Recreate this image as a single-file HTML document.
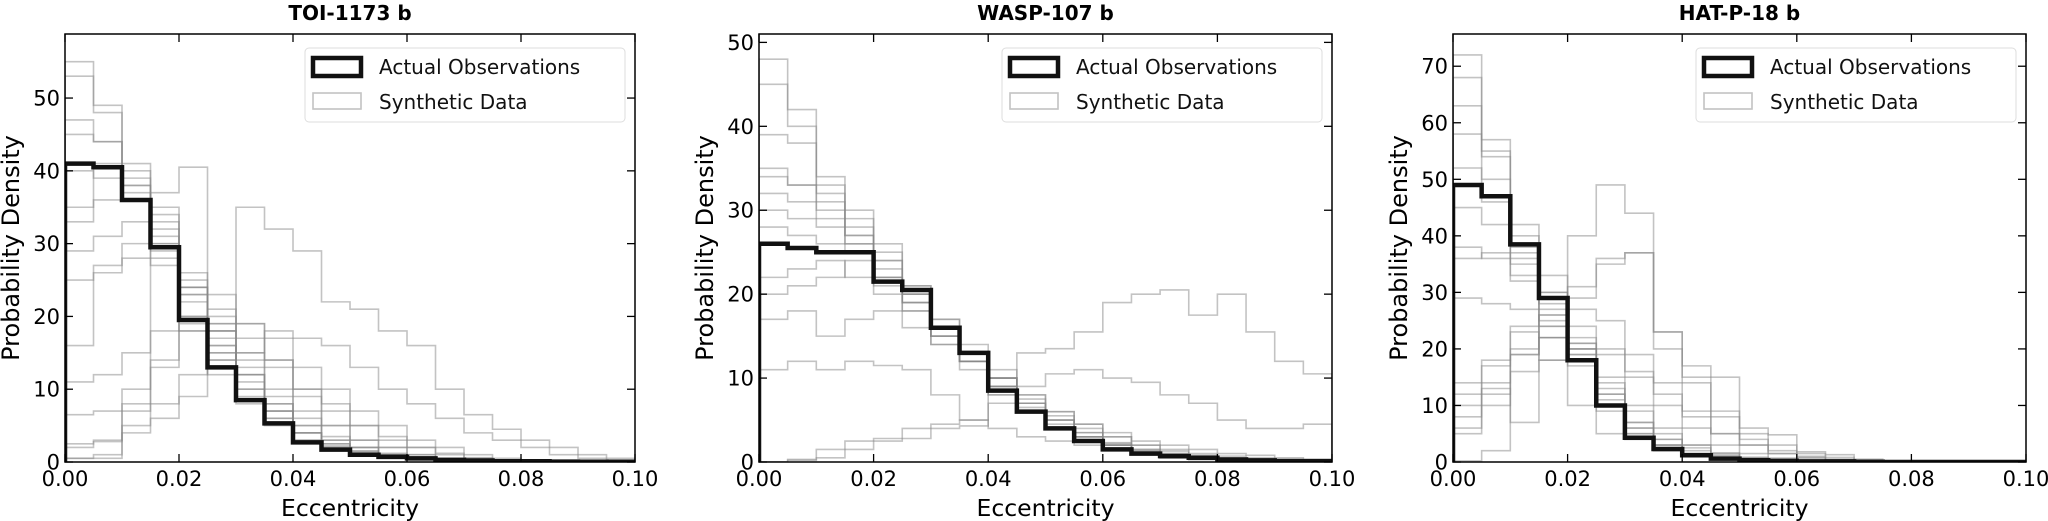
<!DOCTYPE html>
<html><head><meta charset="utf-8">
<style>
html,body{margin:0;padding:0;background:#fff;}
svg{display:block;font-family:"DejaVu Sans","Liberation Sans",sans-serif;}
</style></head>
<body>
<svg id="fig" width="2048" height="521" viewBox="0 0 2048 521" xmlns="http://www.w3.org/2000/svg"></svg>
<script>
const binEdgeStep = 0.005;
const xTicks = [0, 0.02, 0.04, 0.06, 0.08, 0.10];
const xTickLabels = ["0.00","0.02","0.04","0.06","0.08","0.10"];
const titles = ["TOI-1173 b","WASP-107 b","HAT-P-18 b"];
const yMaxes = [58.8, 51.0, 75.7];
const yTicks1 = [0,10,20,30,40,50];
const yTicks2 = [0,10,20,30,40,50];
const yTicks3 = [0,10,20,30,40,50,60,70];

const actual1 = [41,40.5,36,29.5,19.5,13,8.5,5.3,2.7,1.7,1,0.7,0.5,0.3,0.2,0.1,0.1,0.05,0.03,0.02];
const actual2 = [26,25.5,25,25,21.5,20.5,16,13,8.5,6,4,2.5,1.5,1,0.7,0.5,0.3,0.2,0.1,0.1];
const actual3 = [49,47,38.5,29,18,10,4.3,2.3,1.2,0.6,0.3,0.2,0.1,0.1,0.05,0,0,0,0,0];

const synth1 = [
[55,48,40,33,25,18,12,8,5,3,2,1,0.5,0.3,0.2,0.1,0,0,0,0],
[53,49,41,34,22,15,10,6,4,2.5,1.5,1,0.5,0.3,0.1,0.1,0,0,0,0],
[45,44,38,30,20,14,9,6,3,2,1,0.5,0.3,0.2,0.1,0,0,0,0,0],
[40,39,36,28,18,12,8,5,3,1.8,1,0.6,0.4,0.2,0.1,0,0,0,0,0],
[35,41,37,31,24,15,10,7,4,2.5,1.5,1,0.5,0.3,0.2,0,0,0,0,0],
[29,31,33,30,23,17,12,8,5,3,2,1,0.6,0.3,0.2,0.1,0,0,0,0],
[16,26,28,27,23,19,14,10,7,5,3,2,1,0.5,0.3,0.2,0.1,0,0,0],
[33,36,38,35,26,20,12,7,4,2,1.2,0.8,0.4,0.2,0.1,0,0,0,0,0],
[11,12,15,18,20,18,17,14,10,8,5,3,2,1,0.5,0.3,0.2,0,0,0],
[2.5,3,7,14,19,16,15,13,10,7,5,3.5,2,1.2,0.6,0.3,0.1,0,0,0],
[2,2.8,8,37,40.5,23,19,14,9,5,3,2,1,0.5,0.3,0,0,0,0,0],
[0.5,0.5,4,6,9,18,35,32,29,22,21,18,16,10,6.5,4.5,3,2,1,0.5],
[6.5,7,10,13,18,21,19,17,13,10,7,5,3,2,1,0.5,0.3,0.1,0,0],
[0.5,1,5,8,12,14,15,18,17,16,13,10,8,6,4,3,2,1,0.5,0.3],
[47,44,39,32,24,16,11,7,4,2.2,1.3,0.8,0.4,0.2,0.1,0,0,0,0,0],
[25,27,30,29,24,19,13,9,6,3.5,2,1.2,0.7,0.4,0.2,0.1,0,0,0,0]
];
const synth2 = [
[48,42,33,29,24,20,15,12,9,6,4,2.5,1.5,1,0.5,0.3,0.2,0.1,0,0],
[45,40,34,30,26,21,16,12,9,6,4,3,2,1,0.5,0.3,0.2,0.1,0,0],
[39,38,32,27,24,20,15,12,8,6,4,2.5,1.5,1,0.6,0.4,0.2,0.1,0.1,0],
[34,33,30,26,22,19,15,12,9,6.5,4.5,3,2,1.3,0.8,0.5,0.3,0.2,0.1,0.1],
[32,31,29,27,23,20,16,13,10,7,5,3.5,2.2,1.5,1,0.6,0.4,0.2,0.1,0.1],
[30,29,28,26,22,18,14,11,8,6,4,3,2,1.3,0.9,0.6,0.4,0.3,0.2,0.1],
[22,23,24,22,20,18,15,12,10,7.5,5.5,4,3,2,1.5,1,0.7,0.5,0.3,0.2],
[20,21,22,24,21,19,17,14,11,8,6,4.5,3,2,1.3,0.8,0.5,0.3,0.2,0.1],
[17,18,15,17,18,16,14,12,10,8,6,4.5,3.5,2.5,2,1.5,1,0.8,0.5,0.3],
[11,12,11,12,11.5,11,8,5,4,3,2.5,2,1.5,1,0.5,0.3,0.2,0.1,0,0],
[0,0.3,1.5,2.5,2.8,4,4.5,5,7,9,10.5,11,10,9.5,8,7,5,4,4,4.5],
[0,0.2,0.5,1.5,2.5,2.8,4,4.3,9,13,13.5,15.5,19,20,20.5,17.5,20,15.5,12,10.5],
[35,33,31,28,25,21,17,13,10,7,5,3,2,1.2,0.8,0.5,0.3,0.2,0.1,0.1],
[28,27,26,25,22,19,16,13,10,7,5,3.5,2.3,1.5,1,0.6,0.4,0.2,0.1,0.1]
];
const synth3 = [
[72,55,40,30,18,10,5,2.5,1.2,0.6,0.3,0.1,0,0,0,0,0,0,0,0],
[68,57,42,33,20,11,6,3,1.5,0.8,0.3,0.2,0,0,0,0,0,0,0,0],
[63,54,38,28,19,9,4,2,1,0.5,0.2,0.1,0,0,0,0,0,0,0,0],
[58,50,36,27,17,10,5,3,1.5,0.7,0.3,0.1,0,0,0,0,0,0,0,0],
[52,46,37,29,21,12,6,3,1.5,0.8,0.4,0.2,0.1,0,0,0,0,0,0,0],
[45,42,35,30,20,13,7,4,2,1,0.5,0.2,0.1,0,0,0,0,0,0,0],
[38,36,33,25,19,12,7,4,2.5,1.2,0.6,0.3,0.1,0,0,0,0,0,0,0],
[36,37,32,24,22,14,9,5,3,1.5,0.8,0.4,0.2,0.1,0,0,0,0,0,0],
[29,28,27,22,20,15,10,6,3,1.6,0.8,0.4,0.2,0.1,0,0,0,0,0,0],
[14,17,19,24,27,25,19,14,9,5,3,1.5,0.7,0.3,0.1,0,0,0,0,0],
[6,12,19,22,29,35,37,23,15,8,4,2,1,0.5,0.2,0,0,0,0,0],
[5,13,7,18,40,49,44,20,14,9,5,3,1.5,0.8,0.3,0.1,0,0,0,0],
[0.2,2,16,26,31,36,37,23,17,15,6,4.8,1.8,1.3,0.5,0.2,0,0,0,0],
[8,10,23,18,10,5,4,2,1,0.5,0.2,0,0,0,0,0,0,0,0,0],
[12,18,24,26,24,20,15,10,6,3,1.5,0.7,0.3,0.1,0,0,0,0,0,0],
[10,14,20,22,21,19,16,12,8,5,3,1.5,0.8,0.3,0.1,0,0,0,0,0]
];

const panels = [
  {left:65, right:635, title:titles[0], yMax:yMaxes[0], yTicks:yTicks1, actual:actual1, synth:synth1},
  {left:759, right:1332, title:titles[1], yMax:yMaxes[1], yTicks:yTicks2, actual:actual2, synth:synth2},
  {left:1453, right:2026, title:titles[2], yMax:yMaxes[2], yTicks:yTicks3, actual:actual3, synth:synth3}
];
const TOP = 34, BOTTOM = 462;
const NS = "http://www.w3.org/2000/svg";
const svg = document.getElementById('fig');
function mk(tag, attrs, parent){
  const e = document.createElementNS(NS, tag);
  for (const k in attrs) e.setAttribute(k, attrs[k]);
  (parent||svg).appendChild(e);
  return e;
}
function stepPath(vals, xs, ys){
  let d = `M${xs(0)},${ys(0)}`;
  vals.forEach((v,i)=>{
    d += ` L${xs(i*binEdgeStep)},${ys(v)} L${xs((i+1)*binEdgeStep)},${ys(v)}`;
  });
  d += ` L${xs(vals.length*binEdgeStep)},${ys(0)}`;
  return d;
}
panels.forEach((p, pi)=>{
  const g = mk('g', {});
  
  
  const xs = v => p.left + (v/0.1)*(p.right-p.left);
  const ys = v => BOTTOM - (v/p.yMax)*(BOTTOM-TOP);
  const clipId = 'clip'+pi;
  const cp = mk('clipPath', {id:clipId}, g);
  mk('rect', {x:p.left, y:TOP, width:p.right-p.left, height:BOTTOM-TOP}, cp);
  const plot = mk('g', {'clip-path':`url(#${clipId})`}, g);
  p.synth.forEach((s, si)=>{
    const path = mk('path', {d:stepPath(s, xs, ys), fill:'none', stroke:'#888', 'stroke-opacity':'0.5', 'stroke-width':'1.6'}, plot);
    
    
  });
  const act = mk('path', {d:stepPath(p.actual, xs, ys), fill:'none', stroke:'#111', 'stroke-width':'4.5'}, plot);
  
  
  const frame = mk('rect', {x:p.left, y:TOP, width:p.right-p.left, height:BOTTOM-TOP, fill:'none', stroke:'#000', 'stroke-width':'1.5'}, g);
  
  
  xTicks.forEach((t, ti)=>{
    const x = xs(t);
    mk('line', {x1:x, y1:BOTTOM, x2:x, y2:BOTTOM-8, stroke:'#000', 'stroke-width':'1.3'}, g);
    mk('line', {x1:x, y1:TOP, x2:x, y2:TOP+8, stroke:'#000', 'stroke-width':'1.3'}, g);
    const tl = mk('text', {x:x, y:486, 'text-anchor':'middle', 'font-size':'21', fill:'#000'}, g);
    tl.textContent = xTickLabels[ti];
    
    
  });
  p.yTicks.forEach(t=>{
    const y = ys(t);
    mk('line', {x1:p.left, y1:y, x2:p.left+8, y2:y, stroke:'#000', 'stroke-width':'1.3'}, g);
    mk('line', {x1:p.right, y1:y, x2:p.right-8, y2:y, stroke:'#000', 'stroke-width':'1.3'}, g);
    const tl = mk('text', {x:p.left-5, y:y+7.5, 'text-anchor':'end', 'font-size':'21', fill:'#000'}, g);
    tl.textContent = String(t);
    
    
  });
  const cx = (p.left+p.right)/2;
  const tt = mk('text', {x:cx, y:20, 'text-anchor':'middle', 'font-size':'20', 'font-weight':'bold', fill:'#000'}, g);
  tt.textContent = p.title;
  
  
  const xl = mk('text', {x:cx, y:516, 'text-anchor':'middle', 'font-size':'23.5', fill:'#000'}, g);
  xl.textContent = 'Eccentricity';
  
  
  const yl = mk('text', {x:0, y:0, 'text-anchor':'middle', 'font-size':'24', fill:'#000', transform:`translate(${p.left-46},${(TOP+BOTTOM)/2}) rotate(-90)`}, g);
  yl.textContent = 'Probability Density';
  
  
  const lg = mk('g', {}, g);
  
  
  const lx = p.right - 330, ly = 48;
  mk('rect', {x:lx, y:ly, width:320, height:74, rx:4, fill:'#fff', 'fill-opacity':'0.8', stroke:'#ddd', 'stroke-width':'1'}, lg);
  const h1 = mk('rect', {x:lx+8, y:ly+10, width:48, height:18, fill:'none', stroke:'#111', 'stroke-width':'4.5'}, lg);
  
  
  const t1 = mk('text', {x:lx+74, y:ly+26, 'font-size':'20', fill:'#111'}, lg);
  t1.textContent = 'Actual Observations';
  
  
  const h2 = mk('rect', {x:lx+8, y:ly+45, width:48, height:16, fill:'none', stroke:'#888', 'stroke-opacity':'0.5', 'stroke-width':'1.6'}, lg);
  
  
  const t2 = mk('text', {x:lx+74, y:ly+61, 'font-size':'20', fill:'#111'}, lg);
  t2.textContent = 'Synthetic Data';
  
  
});
</script>
</body></html>
